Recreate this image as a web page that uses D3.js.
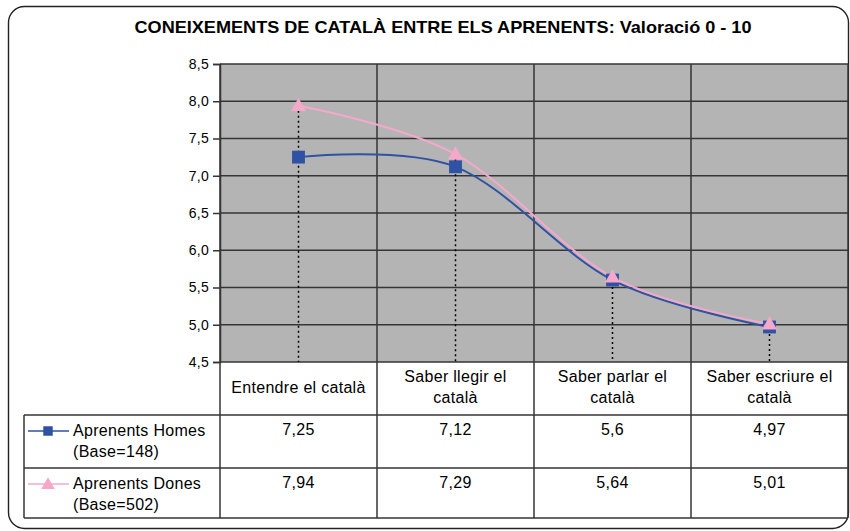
<!DOCTYPE html>
<html>
<head>
<meta charset="utf-8">
<script src="https://cdn.jsdelivr.net/npm/d3@7"></script>
<style>
  body { margin: 0; background: #fff; }
  text { font-family: 'Liberation Sans', Arial, sans-serif; fill: #000; }
</style>
</head>
<body>
<svg id="chart" width="850" height="531"></svg>
<script>
// chart data
const categories = [
  ['Entendre el català'],
  ['Saber llegir el', 'català'],
  ['Saber parlar el', 'català'],
  ['Saber escriure el', 'català']
]
const seriesNames = [
  ['Aprenents Homes', '(Base=148)'],
  ['Aprenents Dones', '(Base=502)']
]
const homes = [7.25, 7.12, 5.6, 4.97]
const dones = [7.94, 7.29, 5.64, 5.01]
const yTicks = [4.5, 5.0, 5.5, 6.0, 6.5, 7.0, 7.5, 8.0, 8.5]
const title = 'CONEIXEMENTS DE CATALÀ ENTRE ELS APRENENTS: Valoració 0 - 10'

const colors = ['#2f52a3', '#f6a8cb']
const series = [homes, dones]

const svg = d3.select('#chart')
const locale = d3.formatLocale({ decimal: ',', thousands: '.', grouping: [3], currency: ['', '€'] })
const tickFmt = locale.format('.1f')
const valFmt = v => String(v).replace('.', ',')

// layout
const plot = { left: 220, right: 848, top: 64, bottom: 362 }
const tableLeft = 24
const rowTops = [415, 468]
const rowHeights = [53, 50]
const gridColor = '#353535'

// outer rounded frame
svg.append('rect')
  .attr('x', 8.5).attr('y', 6.5)
  .attr('width', 840).attr('height', 522)
  .attr('rx', 16)
  .attr('fill', '#fff')
  .attr('stroke', '#222')
  .attr('stroke-width', 1.4)

svg.append('text')
  .attr('x', 443).attr('y', 33)
  .attr('text-anchor', 'middle')
  .style('font-size', '17px')
  .style('font-weight', 'bold')
  .attr('textLength', 617)
  .attr('lengthAdjust', 'spacingAndGlyphs')
  .text(title)

const x = d3.scaleBand()
  .domain(d3.range(categories.length))
  .range([plot.left, plot.right])
const y = d3.scaleLinear()
  .domain([4.5, 8.5])
  .range([plot.bottom, plot.top])

// plot background
svg.append('rect')
  .attr('x', plot.left).attr('y', plot.top)
  .attr('width', plot.right - plot.left).attr('height', plot.bottom - plot.top)
  .attr('fill', '#b4b4b4')

// horizontal gridlines
svg.append('g')
  .selectAll('line')
  .data(yTicks)
  .join('line')
  .attr('x1', plot.left).attr('x2', plot.right)
  .attr('y1', d => y(d)).attr('y2', d => y(d))
  .attr('stroke', gridColor)
  .attr('stroke-width', 1.5)

// y axis
const yAxis = svg.append('g')
  .attr('transform', `translate(${plot.left},0)`)
  .call(d3.axisLeft(y).tickValues(yTicks).tickFormat(tickFmt).tickSize(7).tickPadding(4))
yAxis.select('.domain').attr('stroke', gridColor).attr('stroke-width', 1.5)
yAxis.selectAll('.tick line').attr('stroke', gridColor).attr('stroke-width', 1.5)
yAxis.selectAll('.tick text')
  .attr('fill', '#000')
  .style('font-size', '14px')
  .style('letter-spacing', '0.3px')
  .style('font-family', "'Liberation Sans', Arial, sans-serif")

// vertical lines: column borders through plot and table
const colEdges = d3.range(categories.length + 1).map(i => i < categories.length ? x(i) : plot.right)
svg.append('g')
  .selectAll('line')
  .data(colEdges)
  .join('line')
  .attr('x1', d => d).attr('x2', d => d)
  .attr('y1', plot.top).attr('y2', rowTops[1] + rowHeights[1])
  .attr('stroke', gridColor)
  .attr('stroke-width', 1.5)

// table horizontal lines
const tableLines = [rowTops[0], rowTops[1], rowTops[1] + rowHeights[1]]
svg.append('g')
  .selectAll('line')
  .data(tableLines)
  .join('line')
  .attr('x1', tableLeft).attr('x2', plot.right)
  .attr('y1', d => d).attr('y2', d => d)
  .attr('stroke', gridColor)
  .attr('stroke-width', 1.5)
svg.append('line')
  .attr('x1', tableLeft).attr('x2', tableLeft)
  .attr('y1', rowTops[0]).attr('y2', rowTops[1] + rowHeights[1])
  .attr('stroke', gridColor)
  .attr('stroke-width', 1.5)

// drop lines from the top point down to the axis
svg.append('g')
  .selectAll('line')
  .data(categories.map((c, i) => Math.max(homes[i], dones[i])))
  .join('line')
  .attr('x1', (d, i) => x(i) + x.bandwidth() / 2)
  .attr('x2', (d, i) => x(i) + x.bandwidth() / 2)
  .attr('y1', d => y(d))
  .attr('y2', plot.bottom)
  .attr('stroke', '#000')
  .attr('stroke-width', 1.5)
  .attr('stroke-dasharray', '2,3')

// smoothed series lines
const line = d3.line()
  .x((d, i) => x(i) + x.bandwidth() / 2)
  .y(d => y(d))
  .curve(d3.curveCardinal.tension(0))

const square = d3.symbol().type(d3.symbolSquare).size(165)
const triangle = d3.symbol().type(d3.symbolTriangle).size(100)
const shapes = [square, triangle]

series.forEach((s, k) => {
  svg.append('path')
    .datum(s)
    .attr('d', line)
    .attr('fill', 'none')
    .attr('stroke', colors[k])
    .attr('stroke-width', 2)
})
series.forEach((s, k) => {
  svg.append('g')
    .selectAll('path')
    .data(s)
    .join('path')
    .attr('transform', (d, i) => `translate(${x(i) + x.bandwidth() / 2},${y(d) + (k === 1 ? 1 : 0)})`)
    .attr('d', shapes[k])
    .attr('fill', colors[k])
})

// category labels (table header)
const header = svg.append('g')
categories.forEach((lines, i) => {
  const cx = x(i) + x.bandwidth() / 2
  const base = lines.length === 1 ? 393 : 382
  lines.forEach((t, j) => {
    header.append('text')
      .attr('x', cx).attr('y', base + j * 21)
      .attr('text-anchor', 'middle')
      .style('font-size', '16px')
      .style('letter-spacing', '0.3px')
      .text(t)
  })
})

// legend cells and values
series.forEach((s, k) => {
  const top = rowTops[k]
  const ly = top + 16
  const g = svg.append('g')
  g.append('line')
    .attr('x1', 28).attr('x2', 69)
    .attr('y1', ly).attr('y2', ly)
    .attr('stroke', colors[k])
    .attr('stroke-width', 1.5)
  g.append('path')
    .attr('transform', `translate(48,${ly + (k === 1 ? 1 : 0)})`)
    .attr('d', k === 0 ? d3.symbol().type(d3.symbolSquare).size(90)() : d3.symbol().type(d3.symbolTriangle).size(80)())
    .attr('fill', colors[k])
  seriesNames[k].forEach((t, j) => {
    g.append('text')
      .attr('x', 73).attr('y', top + 21 + j * 21)
      .style('font-size', '16px')
      .style('letter-spacing', '0.3px')
      .text(t)
  })
  g.selectAll('.val')
    .data(s)
    .join('text')
    .attr('class', 'val')
    .attr('x', (d, i) => x(i) + x.bandwidth() / 2)
    .attr('y', top + 20)
    .attr('text-anchor', 'middle')
    .style('font-size', '16px')
    .style('letter-spacing', '0.3px')
    .text(valFmt)
})
</script>
</body>
</html>
